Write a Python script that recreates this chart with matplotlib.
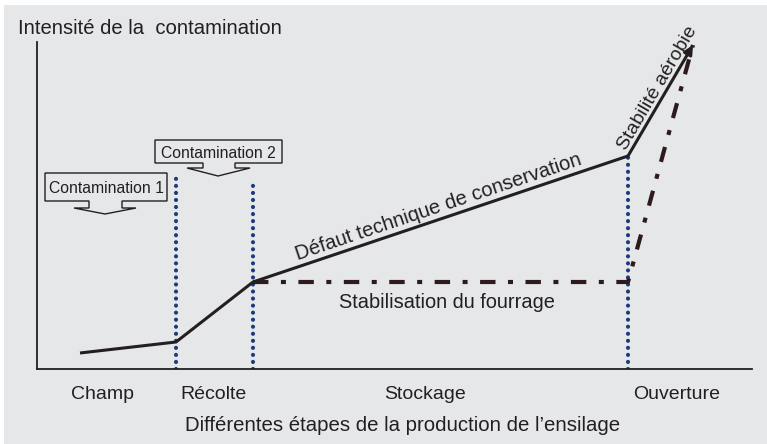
import matplotlib.pyplot as plt
from matplotlib.patches import Polygon, Rectangle

W, H = 767, 444
BG = "#e6e7e9"
INK = "#231f20"
NAVY = "#1c3b7c"

# schematic values (x: progress through the process, y: contamination intensity)
solid_x = [43, 139, 216, 591, 656]
solid_y = [16, 27, 87, 213, 324]
stab_x = [216, 591, 656]
stab_y = [87, 87, 324]
step_x = [139, 216, 591]
step_top = [192, 187, 213]
stages = ["Champ", "Récolte", "Stockage", "Ouverture"]
stage_px = [103, 213, 425, 677]

plt.rcParams["font.family"] = ["Liberation Sans", "DejaVu Sans"]

fig = plt.figure(figsize=(W / 100, H / 100), dpi=100, facecolor="white")
fig.patches.append(Rectangle((4 / W, 0), 1, 1 - 5 / H, transform=fig.transFigure,
                             facecolor=BG, edgecolor="none", zorder=-10))

# axis frame: x 37..752 px, y 42..369 px
ax = fig.add_axes([37 / W, 75 / H, 715 / W, 327 / H])
ax.set_xlim(0, 715)
ax.set_ylim(0, 327)
ax.patch.set_alpha(0)
for s in ["top", "right"]:
    ax.spines[s].set_visible(False)
for s in ["left", "bottom"]:
    ax.spines[s].set_color(INK)
    ax.spines[s].set_linewidth(1.3)
ax.set_xticks([])
ax.set_yticks([])

# dotted stage separators
for x, top in zip(step_x, step_top):
    ax.plot([x, x], [0, top], color=NAVY, lw=3.0, linestyle=(0, (0.01, 1.68)),
            dash_capstyle="round", zorder=2)

# stabilisation (dash-dot)
ax.plot(stab_x, stab_y, color="#2e1a1c", lw=3.0, linestyle=(0, (3.7, 3.0, 1.2, 3.0)),
        dash_capstyle="butt", zorder=3)

# technical defect (solid with arrow)
ax.plot(solid_x[:-1], solid_y[:-1], color=INK, lw=2.2, solid_capstyle="butt",
        solid_joinstyle="miter", zorder=4)
ax.annotate("", xy=(solid_x[-1], solid_y[-1]), xytext=(solid_x[-2], solid_y[-2]),
            arrowprops=dict(arrowstyle="-|>", color=INK, lw=2.2, mutation_scale=13,
                            shrinkA=0, shrinkB=0), zorder=4)


def callout(box, stem, wing_y, wings, tip, label):
    x0, x1, y0, y1 = box
    pts = [(x0, y0), (x1, y0), (x1, y1), (stem[1], y1), (stem[1], wing_y),
           (wings[1], wing_y), tip, (wings[0], wing_y), (stem[0], wing_y),
           (stem[0], y1), (x0, y1)]
    pts = [(px / W, 1 - py / H) for px, py in pts]
    fig.patches.append(Polygon(pts, closed=True, transform=fig.transFigure,
                               facecolor=BG, edgecolor=INK, lw=1.0, zorder=5))
    fig.text((x0 + x1) / 2 / W, 1 - (y0 + y1) / 2 / H, label, ha="center",
             va="center_baseline", fontsize=11.3, color=INK, zorder=6)


callout((45, 167, 173, 201), (89, 122), 208, (74, 136), (105, 214), "Contamination 1")
callout((155, 282, 140, 163), (203, 235), 168, (187, 250), (218, 176), "Contamination 2")


def ft(x, y, s, **kw):
    kw.setdefault("fontsize", 14)
    kw.setdefault("color", INK)
    fig.text(x / W, 1 - y / H, s, **kw)


ft(18, 34, "Intensité de la  contamination", ha="left", va="baseline", fontsize=14.6)
for name, x in zip(stages, stage_px):
    ft(x, 399, name, ha="center", va="baseline")
ft(403, 431, "Différentes étapes de la production de l’ensilage", ha="center",
   va="baseline", fontsize=14.7)
ft(447, 308, "Stabilisation du fourrage", ha="center", va="baseline", fontsize=14.4)
ft(440, 212, "Défaut technique de conservation", ha="center", va="baseline",
   rotation=18.6, rotation_mode="anchor", fontsize=14.5)
ft(662, 90, "Stabilité aérobie", ha="center", va="baseline",
   rotation=59.6, rotation_mode="anchor")

fig.savefig("out.png", dpi=100, facecolor="white")
